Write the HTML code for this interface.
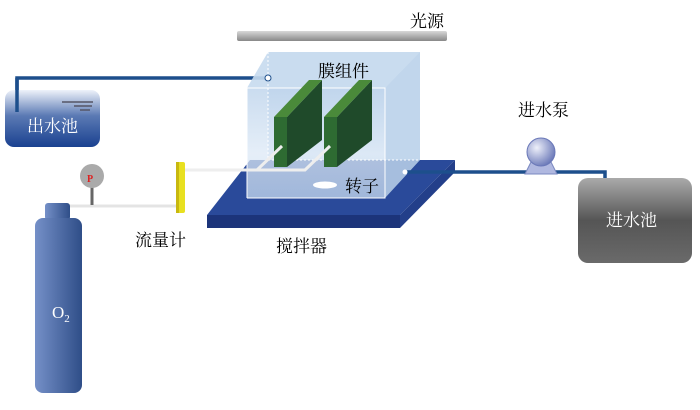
<!DOCTYPE html>
<html><head><meta charset="utf-8"><style>
body{margin:0;background:#fff}
svg{display:block}
text{font-family:"Liberation Serif","Noto Serif CJK SC",serif}
</style></head><body>
<svg width="700" height="410" viewBox="0 0 700 410" xmlns="http://www.w3.org/2000/svg">
<defs>
<linearGradient id="bar" x1="0" y1="0" x2="0" y2="1"><stop offset="0" stop-color="#d8d8d8"/><stop offset="1" stop-color="#888"/></linearGradient>
<linearGradient id="tank1" x1="0" y1="0" x2="0" y2="1"><stop offset="0" stop-color="#eef2fa"/><stop offset="0.45" stop-color="#5b7ab4"/><stop offset="1" stop-color="#1a4190"/></linearGradient>
<linearGradient id="tank2" x1="0" y1="0" x2="0" y2="1"><stop offset="0" stop-color="#aaa"/><stop offset="0.5" stop-color="#555"/><stop offset="1" stop-color="#6a6a6a"/></linearGradient>
<linearGradient id="cyl" x1="0" y1="0" x2="1" y2="0"><stop offset="0" stop-color="#7590c8"/><stop offset="1" stop-color="#2f4e88"/></linearGradient>
<linearGradient id="cube" x1="0" y1="0" x2="0" y2="1"><stop offset="0" stop-color="#b8d0ea"/><stop offset="0.6" stop-color="#dde9f6"/><stop offset="1" stop-color="#c8dcf0"/></linearGradient>
<radialGradient id="pump" cx="0.35" cy="0.35" r="0.7"><stop offset="0" stop-color="#eef0fa"/><stop offset="1" stop-color="#6a78b8"/></radialGradient>
</defs>
<rect x="237" y="31" width="210" height="10" rx="2" fill="url(#bar)"/>
<text x="410" y="27" font-size="17">光源</text>
<polyline points="268,78 17,78 17,112" fill="none" stroke="#1d4f8c" stroke-width="3.5"/>
<rect x="5" y="90" width="95" height="57" rx="9" fill="url(#tank1)"/>
<polyline points="17,78 17,112" fill="none" stroke="#1d4f8c" stroke-width="3.5"/>
<line x1="62" y1="102" x2="93" y2="102" stroke="#556" stroke-width="1.5"/>
<line x1="74" y1="106" x2="92" y2="106" stroke="#556" stroke-width="1.5"/>
<line x1="80" y1="110" x2="90" y2="110" stroke="#556" stroke-width="1.5"/>
<text x="27" y="132" font-size="17" fill="#fff">出水池</text>
<polygon points="207,215 250,160 455,160 400,215" fill="#2a4a9a"/>
<polygon points="207,215 400,215 400,228 207,228" fill="#1c347a"/>
<polygon points="400,215 455,160 455,172 400,228" fill="#233f8a"/>
<polygon points="268,52 420,52 420,160 268,160" fill="#d2e2f2" opacity="0.85"/>
<polygon points="247,88 268,52 420,52 385,88" fill="#c6daee" opacity="0.9"/>
<polygon points="385,88 420,52 420,160 385,198" fill="#bcd2ea" opacity="0.85"/>
<polygon points="247,88 385,88 385,198 247,198" fill="url(#cube)" opacity="0.75"/>
<line x1="268" y1="52" x2="268" y2="160" stroke="#fff" stroke-dasharray="2,2"/>
<line x1="268" y1="160" x2="420" y2="160" stroke="#fff" stroke-dasharray="2,2"/>
<polyline points="247,198 247,88 385,88 385,198 247,198" fill="none" stroke="#fff" stroke-width="1"/>
<ellipse cx="325" cy="185" rx="12" ry="3.5" fill="#fff"/>
<g>
<polygon points="287,117 322,80 322,140 287,167" fill="#1f4a2a"/>
<polygon points="274,117 309,80 322,80 287,117" fill="#4a8a3a"/>
<rect x="274" y="117" width="13" height="50" fill="#2e6b32"/>
</g>
<g>
<polygon points="337,117 372,80 372,140 337,167" fill="#1f4a2a"/>
<polygon points="324,117 359,80 372,80 337,117" fill="#4a8a3a"/>
<rect x="324" y="117" width="13" height="50" fill="#2e6b32"/>
</g>
<polyline points="185,170 257,170 282,146" fill="none" stroke="#eee" stroke-width="3"/>
<polyline points="257,170 305,170 330,146" fill="none" stroke="#eee" stroke-width="3"/>
<circle cx="268" cy="78" r="3" fill="#fff" stroke="#1d4f8c"/>
<text x="318" y="77" font-size="17">膜组件</text>
<text x="345" y="192" font-size="17">转子</text>
<polyline points="405,172 605,172 605,180" fill="none" stroke="#1d4f8c" stroke-width="3.5"/>
<circle cx="405" cy="172" r="2.5" fill="#fff"/>
<polygon points="525,174 532,160 550,160 557,174" fill="#b0b8e0" stroke="#7a88c0"/>
<circle cx="541" cy="152" r="14" fill="url(#pump)" stroke="#6a78b8"/>
<text x="518" y="116" font-size="17">进水泵</text>
<rect x="578" y="178" width="114" height="85" rx="10" fill="url(#tank2)"/>
<text x="606" y="226" font-size="17" fill="#fff">进水池</text>
<line x1="70" y1="206" x2="178" y2="206" stroke="#e4e4e4" stroke-width="3"/>
<line x1="92" y1="180" x2="92" y2="205" stroke="#666" stroke-width="3"/>
<circle cx="92" cy="176" r="12" fill="#aaa"/>
<text x="87" y="182" font-size="10" font-weight="bold" fill="#d22">P</text>
<rect x="176" y="162" width="9" height="51" rx="2" fill="#e8e020"/>
<rect x="176" y="162" width="3" height="51" fill="#c8b810"/>
<text x="135" y="246" font-size="17">流量计</text>
<text x="276" y="252" font-size="17">搅拌器</text>
<rect x="45" y="203" width="25" height="17" rx="3" fill="url(#cyl)"/>
<rect x="35" y="218" width="47" height="175" rx="8" fill="url(#cyl)"/>
<text x="52" y="318" font-size="17" fill="#fff">O<tspan font-size="11" dy="4">2</tspan></text>
</svg>
</body></html>
